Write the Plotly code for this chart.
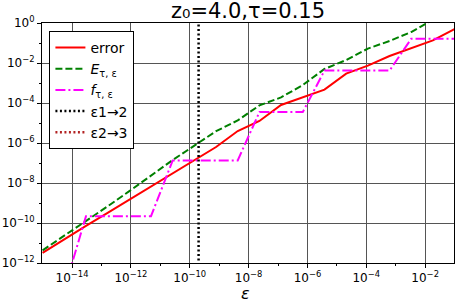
import plotly.graph_objects as go

# sample points of epsilon
eps = [1e-15, 5.46e-15, 2.98e-14, 1.62e-13, 8.86e-13, 4.83e-12, 2.64e-11, 1.44e-10,
       7.85e-10, 4.28e-9, 2.34e-8, 1.27e-7, 6.95e-7, 3.79e-6, 2.07e-5, 1.13e-4,
       6.16e-4, 3.36e-3, 1.83e-2, 1e-1]
error = [3.2e-12, 1.58e-11, 7.24e-11, 3.24e-10, 1.48e-9, 6.76e-9, 3.02e-8, 1.38e-7,
         6.3e-7, 3.98e-6, 1.26e-5, 7.94e-5, 1.91e-4, 4.68e-4, 2.95e-3, 7.41e-3,
         2.24e-2, 5.75e-2, 1.35e-1, 5.0e-1]
E_te = [4.3e-12, 2.3e-11, 1.25e-10, 6.8e-10, 3.9e-9, 2.34e-8, 1.41e-7, 7.41e-7,
        3.89e-6, 1.35e-5, 7.59e-5, 1.91e-4, 7.94e-4, 5.01e-3, 1.41e-2, 5.25e-2,
        1.26e-1, 3.55e-1, 1.45, 5.0]
f_te = [1e-17, 5.25e-14, 2.19e-10, 2.19e-10, 2.19e-10, 2.19e-10, 1.35e-7, 1.35e-7,
        1.35e-7, 1.35e-7, 3.55e-5, 3.55e-5, 3.55e-5, 4.17e-3, 4.17e-3, 4.17e-3,
        4.17e-3, 1.62e-1, 1.62e-1, 1.62e-1]
eps_1to2 = 2.0e-10
eps_2to3 = 5.0  # outside the shown range
vline_y = [1e-13, 1e1]

x_tickvals = [1e-14, 1e-12, 1e-10, 1e-8, 1e-6, 1e-4, 1e-2]
x_ticktext = ["10<sup>−14</sup>", "10<sup>−12</sup>", "10<sup>−10</sup>", "10<sup>−8</sup>",
              "10<sup>−6</sup>", "10<sup>−4</sup>", "10<sup>−2</sup>"]
y_tickvals = [1e-12, 1e-10, 1e-8, 1e-6, 1e-4, 1e-2, 1e0]
y_ticktext = ["10<sup>−12</sup>", "10<sup>−10</sup>", "10<sup>−8</sup>", "10<sup>−6</sup>",
              "10<sup>−4</sup>", "10<sup>−2</sup>", "10<sup>0</sup>"]

fig = go.Figure()
fig.add_trace(go.Scatter(x=eps, y=error, mode="lines", name="error",
                         line=dict(color="#ff0000", width=2)))
fig.add_trace(go.Scatter(x=eps, y=E_te, mode="lines", name="<i>E</i><sub>τ, ε</sub>",
                         line=dict(color="#008000", width=2, dash="7px,3px")))
fig.add_trace(go.Scatter(x=eps, y=f_te, mode="lines", name="<i>f</i><sub>τ, ε</sub>",
                         line=dict(color="#ff00ff", width=2, dash="10px,3px,2px,3px")))
fig.add_trace(go.Scatter(x=[eps_1to2, eps_1to2], y=vline_y, mode="lines", name="ε1→2",
                         line=dict(color="#000000", width=2.5, dash="2px,2.5px")))
fig.add_trace(go.Scatter(x=[eps_2to3, eps_2to3], y=vline_y, mode="lines", name="ε2→3",
                         line=dict(color="#b22222", width=2.5, dash="2px,2.5px")))

axis_common = dict(
    type="log", showline=True, linecolor="#000000", linewidth=1, mirror=True,
    showgrid=True, gridcolor="#555555", gridwidth=1, zeroline=False,
    ticks="outside", ticklen=4, tickcolor="#000000", tickmode="array",
    tickfont=dict(family="DejaVu Sans", size=12, color="#000000"),
)

fig.update_layout(
    width=457, height=305,
    margin=dict(l=40, r=2, t=23, b=42),
    paper_bgcolor="white", plot_bgcolor="white",
    title=dict(text="z₀=4.0,τ=0.15", x=0.5, xref="paper", xanchor="center",
               y=0.99, yanchor="top",
               font=dict(family="DejaVu Sans", size=21, color="#000000")),
    xaxis=dict(**axis_common, range=[-15.02, -1.02], tickvals=x_tickvals, ticktext=x_ticktext,
               minor=dict(ticks="outside", ticklen=2, tickcolor="#000000",
                          tickvals=[1e-13, 1e-11, 1e-9, 1e-7, 1e-5, 1e-3], showgrid=False)),
    yaxis=dict(**axis_common, range=[-12, 0], tickvals=y_tickvals, ticktext=y_ticktext,
               minor=dict(ticks="outside", ticklen=2, tickcolor="#000000",
                          tickvals=[1e-11, 1e-9, 1e-7, 1e-5, 1e-3, 1e-1], showgrid=False)),
    legend=dict(x=0.018, y=0.967, xanchor="left", yanchor="top",
                bgcolor="white", bordercolor="#000000", borderwidth=1,
                font=dict(family="DejaVu Sans", size=14, color="#000000"),
                tracegroupgap=0),
    showlegend=True,
    annotations=[dict(text="<i>ε</i>", xref="paper", yref="paper", x=0.495, y=-0.127,
                      xanchor="center", yanchor="middle", showarrow=False,
                      font=dict(family="DejaVu Sans", size=16, color="#000000"))],
)

fig.write_html("out.html", config={"displayModeBar": False},
               post_script="document.body.style.margin='0px';")
